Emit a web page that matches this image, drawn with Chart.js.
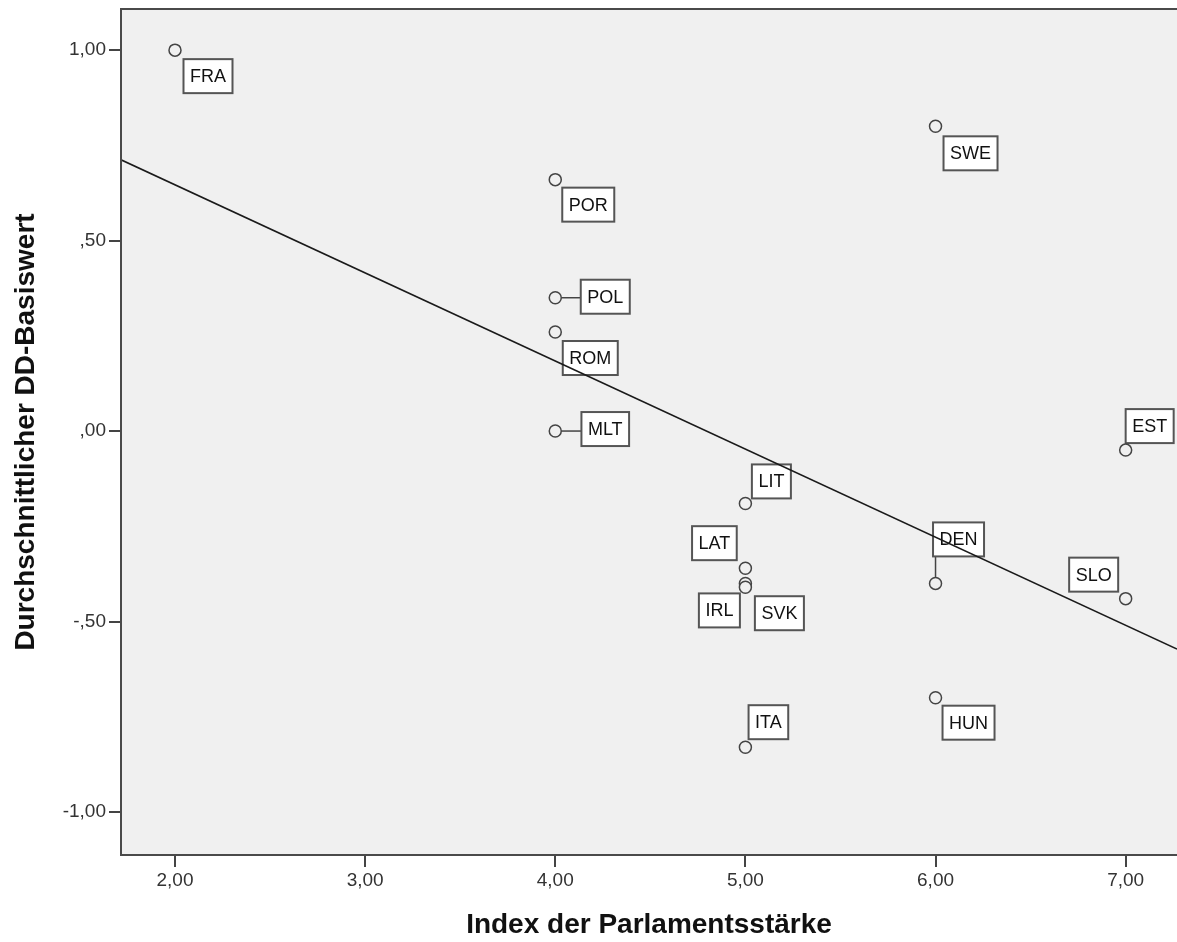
<!DOCTYPE html>
<html>
<head>
<meta charset="utf-8">
<script src="https://cdn.jsdelivr.net/npm/chart.js@4/dist/chart.umd.min.js"></script>
<style>
  body { margin: 0; background: #fff; }
  canvas { display: block; }
</style>
</head>
<body>
<canvas id="chart" width="1177" height="942"></canvas>
<script>
  // country codes, parliament strength index (x), average DD base value (y)
  const countries = ['FRA', 'SWE', 'POR', 'POL', 'ROM', 'MLT', 'EST', 'LIT', 'LAT', 'IRL', 'SVK', 'DEN', 'SLO', 'HUN', 'ITA'];
  const parlIndex = [2, 6, 4, 4, 4, 4, 7, 5, 5, 5, 5, 6, 7, 6, 5];
  const ddBase = [1.00, 0.80, 0.66, 0.35, 0.26, 0.00, -0.05, -0.19, -0.36, -0.40, -0.41, -0.40, -0.44, -0.70, -0.83];

  const xTicks = [2, 3, 4, 5, 6, 7];
  const yTicks = [-1, -0.5, 0, 0.5, 1];
  const xRange = [1.716, 7.27];
  const yRange = [-1.113, 1.108];

  // where each label box sits relative to its point (px)
  const labelOffsets = [[33, 26], [35, 27], [33, 25], [50, -1], [35, 26], [50, -2], [24, -24], [26, -22],
    [-31, -25], [-26, 27], [34, 26], [23, -44], [-32, -24], [33, 25], [23, -25]];

  const FONT = '"Liberation Sans", Arial, sans-serif';

  function fmt(v) {
    let s = Math.abs(v).toFixed(2).replace('.', ',');
    if (s.startsWith('0')) s = s.slice(1);
    return (v < 0 ? '-' : '') + s;
  }

  // least squares fit line
  const n = parlIndex.length;
  const mx = parlIndex.reduce((a, b) => a + b, 0) / n;
  const my = ddBase.reduce((a, b) => a + b, 0) / n;
  let sxy = 0, sxx = 0;
  for (let i = 0; i < n; i++) {
    sxy += (parlIndex[i] - mx) * (ddBase[i] - my);
    sxx += (parlIndex[i] - mx) ** 2;
  }
  const slope = sxy / sxx;
  const intercept = my - slope * mx;
  const fitLine = xRange.map(x => ({ x: x, y: intercept + slope * x }));

  const points = parlIndex.map((x, i) => ({ x: x, y: ddBase[i] }));

  const plotFrame = {
    id: 'plotFrame',
    beforeDraw(chart) {
      const a = chart.chartArea, ctx = chart.ctx;
      ctx.save();
      ctx.fillStyle = '#f0f0f0';
      ctx.fillRect(a.left, a.top, a.right - a.left, a.bottom - a.top);
      ctx.restore();
    },
    afterDraw(chart) {
      const a = chart.chartArea, ctx = chart.ctx;
      ctx.save();
      ctx.strokeStyle = '#4a4a4a';
      ctx.lineWidth = 2;
      ctx.beginPath();
      ctx.moveTo(a.right, a.top);
      ctx.lineTo(a.left, a.top);
      ctx.lineTo(a.left, a.bottom);
      ctx.lineTo(a.right, a.bottom);
      ctx.stroke();
      ctx.restore();
    }
  };

  const pointLabels = {
    id: 'pointLabels',
    beforeDatasetsDraw(chart) {
      const meta = chart.getDatasetMeta(1);
      const ctx = chart.ctx;
      ctx.save();
      ctx.font = '18px ' + FONT;
      meta.data.forEach((el, i) => {
        const px = el.x, py = el.y;
        const cx = px + labelOffsets[i][0], cy = py + labelOffsets[i][1];
        const w = ctx.measureText(countries[i]).width + 13;
        const h = 34;
        const x0 = cx - w / 2, y0 = cy - h / 2;
        // connector
        const nx = Math.min(Math.max(px, x0), x0 + w);
        const ny = Math.min(Math.max(py, y0), y0 + h);
        const d = Math.hypot(nx - px, ny - py);
        if (d > 14) {
          ctx.strokeStyle = '#444';
          ctx.lineWidth = 1.5;
          ctx.beginPath();
          ctx.moveTo(px + (nx - px) * 6 / d, py + (ny - py) * 6 / d);
          ctx.lineTo(nx, ny);
          ctx.stroke();
        }
        ctx.fillStyle = '#fff';
        ctx.fillRect(x0, y0, w, h);
        ctx.strokeStyle = '#555';
        ctx.lineWidth = 2;
        ctx.strokeRect(x0, y0, w, h);
        ctx.fillStyle = '#111';
        ctx.textAlign = 'center';
        ctx.textBaseline = 'middle';
        ctx.fillText(countries[i], cx, cy + 1);
      });
      ctx.restore();
    }
  };

  new Chart(document.getElementById('chart'), {
    type: 'scatter',
    data: {
      datasets: [
        {
          type: 'line',
          data: fitLine,
          borderColor: '#1a1a1a',
          borderWidth: 1.6,
          pointRadius: 0,
          fill: false,
          order: 0
        },
        {
          data: points,
          pointRadius: 6,
          pointBorderWidth: 1.5,
          pointBorderColor: '#444',
          pointBackgroundColor: '#f0f0f0',
          order: 1
        }
      ]
    },
    options: {
      responsive: false,
      animation: false,
      devicePixelRatio: 1,
      layout: { autoPadding: false, padding: { top: 9, right: 0, left: 0, bottom: 0 } },
      plugins: { legend: { display: false }, tooltip: { enabled: false } },
      scales: {
        x: {
          type: 'linear',
          min: xRange[0],
          max: xRange[1],
          afterBuildTicks: s => { s.ticks = xTicks.map(v => ({ value: v })); },
          afterFit: s => { s.height = 87; s.paddingLeft = 0; s.paddingRight = 0; },
          border: { display: false },
          grid: { drawOnChartArea: false, tickLength: 12, color: '#444', lineWidth: 2 },
          ticks: { callback: v => fmt(v), color: '#333', font: { family: FONT, size: 19 }, padding: 2, maxRotation: 0 },
          title: { display: true, text: 'Index der Parlamentsstärke', color: '#111', font: { family: FONT, size: 28, weight: 'bold' }, padding: { top: 0, bottom: 0 } }
        },
        y: {
          type: 'linear',
          min: yRange[0],
          max: yRange[1],
          afterBuildTicks: s => { s.ticks = yTicks.map(v => ({ value: v })); },
          afterFit: s => { s.width = 121; s.paddingTop = 0; s.paddingBottom = 0; },
          border: { display: false },
          grid: { drawOnChartArea: false, tickLength: 12, color: '#444', lineWidth: 2 },
          ticks: { callback: v => fmt(v), color: '#333', font: { family: FONT, size: 19 }, padding: 3 },
          title: { display: true, text: 'Durchschnittlicher DD-Basiswert', color: '#111', font: { family: FONT, size: 28, weight: 'bold' }, padding: { top: 9, bottom: 9 } }
        }
      }
    },
    plugins: [plotFrame, pointLabels]
  });
</script>
</body>
</html>
